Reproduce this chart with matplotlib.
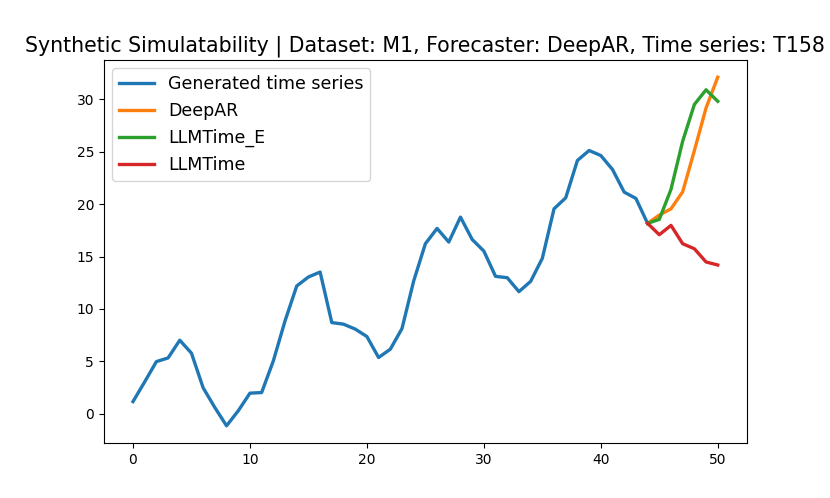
import matplotlib
matplotlib.use("Agg")
import matplotlib.pyplot as plt

hist_x = list(range(0, 45))
hist_y = [1.17, 3.05, 4.98, 5.33, 7.02, 5.78, 2.48, 0.6, -1.14, 0.29,
          1.97, 2.03, 5.05, 8.86, 12.19, 13.05, 13.52, 8.7, 8.55, 8.08,
          7.37, 5.37, 6.16, 8.13, 12.67, 16.22, 17.68, 16.38, 18.76, 16.63,
          15.52, 13.11, 12.98, 11.65, 12.63, 14.83, 19.55, 20.6, 24.16, 25.11,
          24.63, 23.3, 21.14, 20.54, 18.16]

fc_x = list(range(44, 51))
deepar = [18.16, 18.95, 19.55, 21.17, 25.1, 29.17, 32.1]
llmtime_e = [18.16, 18.54, 21.4, 26.0, 29.5, 30.9, 29.8]
llmtime = [18.16, 17.08, 17.97, 16.22, 15.74, 14.48, 14.19]

fig, ax = plt.subplots(figsize=(8.3, 4.98), dpi=100)
ax.plot(hist_x, hist_y, lw=2.4, label="Generated time series")
ax.plot(fc_x, deepar, lw=2.4, label="DeepAR")
ax.plot(fc_x, llmtime_e, lw=2.4, label="LLMTime_E")
ax.plot(fc_x, llmtime, lw=2.4, label="LLMTime")
ax.set_title("Synthetic Simulatability | Dataset: M1, Forecaster: DeepAR, Time series: T158", fontsize=14.8)
ax.legend(fontsize=12.5, loc="upper left")
fig.savefig("out.png", dpi=100)
